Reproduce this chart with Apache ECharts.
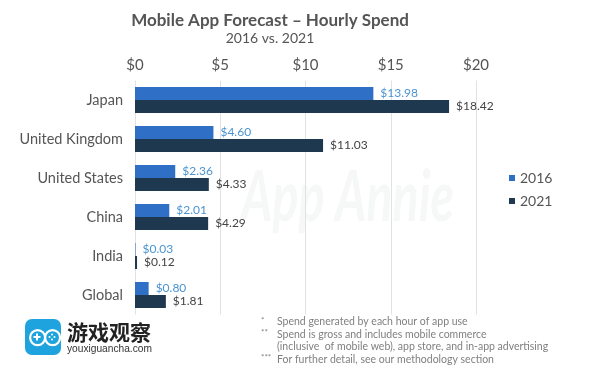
<!DOCTYPE html>
<html>
<head>
<meta charset="utf-8">
<style>
    html, body {margin: 0; padding: 0; background: #fff;}
    #hourly_spend {width: 600px; height: 379px;}
</style>
<script src="https://cdn.jsdelivr.net/npm/echarts@6/dist/echarts.min.js"></script>
</head>
<body>
<div id="hourly_spend"></div>
<script>
//***************数据*************************
var countries = ['Japan', 'United Kingdom', 'United States', 'China', 'India', 'Global'];
var spend_2016 = [13.98, 4.60, 2.36, 2.01, 0.03, 0.80];
var spend_2021 = [18.42, 11.03, 4.33, 4.29, 0.12, 1.81];
var footnote_marks = ['*', '**', '', '***'];
var footnotes = [
    'Spend generated by each hour of app use',
    'Spend is gross and includes mobile commerce',
    '(inclusive  of mobile web), app store, and in-app advertising',
    'For further detail, see our methodology section'
];

var font = 'Lato';
var logo_blue = '#1fa3de';

//***************初始化图表***********************************
var hourly_spend_chart = echarts.init(document.getElementById("hourly_spend"));

var money = function (params) {
    return '$' + params.value.toFixed(2);
};

var footnote_graphics = [];
footnotes.forEach(function (line, i) {
    footnote_graphics.push({
        type: 'text', left: 261, top: 316.5 + i * 12.4,
        style: {text: footnote_marks[i], fill: '#808080', font: '8px ' + font}
    });
    footnote_graphics.push({
        type: 'text', left: 277, top: 316.5 + i * 12.4,
        style: {text: line, fill: '#808080', font: '10.5px ' + font}
    });
});

hourly_spend_chart.setOption({
    animation: false,
    title: {
        text: 'Mobile App Forecast \u2013 Hourly Spend',
        subtext: '2016 vs. 2021',
        left: 265,
        textAlign: 'center',
        top: 7,
        itemGap: 2,
        textStyle: {color: '#555', fontFamily: font, fontSize: 17, fontWeight: 'bold'},
        subtextStyle: {color: '#555', fontFamily: font, fontSize: 14}
    },
    legend: {
        data: ['2016', '2021'],
        orient: 'vertical',
        left: 504,
        top: 166,
        itemWidth: 6,
        itemHeight: 6,
        itemGap: 9,
        icon: 'rect',
        textStyle: {color: '#555', fontFamily: font, fontSize: 14}
    },
    grid: {left: 135, right: 124, top: 80.5, bottom: 64.5},
    xAxis: {
        type: 'value',
        position: 'top',
        min: 0,
        max: 20,
        interval: 5,
        axisLine: {show: false},
        axisTick: {show: false},
        axisLabel: {color: '#555', fontFamily: font, fontSize: 15, margin: 8, formatter: '${value}'},
        splitLine: {lineStyle: {color: '#e2e2e2', width: 1}}
    },
    yAxis: {
        type: 'category',
        inverse: true,
        data: countries,
        axisLine: {show: false},
        axisTick: {show: false},
        axisLabel: {color: '#555', fontFamily: font, fontSize: 14.5, margin: 12, padding: [2, 0, 0, 0]}
    },
    series: [
        {
            name: '2016',
            type: 'bar',
            data: spend_2016,
            barWidth: 13,
            barGap: 0,
            itemStyle: {color: '#2f70c6'},
            label: {show: true, position: 'right', distance: 7, color: '#4a94d2', fontFamily: font, fontSize: 12, padding: [2, 0, 0, 0], formatter: money}
        },
        {
            name: '2021',
            type: 'bar',
            data: spend_2021,
            barWidth: 13,
            itemStyle: {color: '#1e3850'},
            label: {show: true, position: 'right', distance: 7, color: '#444', fontFamily: font, fontSize: 12, padding: [2, 0, 0, 0], formatter: money}
        }
    ],
    graphic: [
        // 水印
        {
            type: 'text', x: 241, y: 163, scaleX: 0.69, z: 0, silent: true,
            style: {text: 'App Annie', fill: '#f6f7f7', font: 'italic bold 70px "Liberation Sans Narrow", ' + font}
        },
        // logo
        {type: 'rect', left: 25, top: 319, shape: {width: 36, height: 36, r: 7}, style: {fill: logo_blue}},
        {type: 'rect', left: 37, top: 335, shape: {width: 15, height: 3}, style: {fill: '#fff'}},
        {type: 'circle', left: 29, top: 329, shape: {r: 7.5}, style: {fill: logo_blue, stroke: '#fff', lineWidth: 2.2}},
        {type: 'circle', left: 44, top: 329, shape: {r: 7.5}, style: {fill: logo_blue, stroke: '#fff', lineWidth: 2.2}},
        {type: 'rect', left: 33.5, top: 336, shape: {width: 7, height: 2}, style: {fill: '#fff'}},
        {type: 'rect', left: 36, top: 333.5, shape: {width: 2, height: 7}, style: {fill: '#fff'}},
        {type: 'circle', left: 48.5, top: 336, shape: {r: 1}, style: {fill: '#fff'}},
        {type: 'circle', left: 53.5, top: 336, shape: {r: 1}, style: {fill: '#fff'}},
        {type: 'circle', left: 51, top: 333.5, shape: {r: 1}, style: {fill: '#fff'}},
        {type: 'circle', left: 51, top: 338.5, shape: {r: 1}, style: {fill: '#fff'}},
        {type: 'text', left: 67, top: 322, style: {text: '游戏观察', fill: '#222', font: 'bold 21px "Noto Sans CJK SC"'}},
        {type: 'text', left: 67, top: 344, style: {text: 'youxiguancha.com', fill: '#333', font: '10.2px "Liberation Sans"'}}
    ].concat(footnote_graphics)
});
</script>
</body>
</html>
